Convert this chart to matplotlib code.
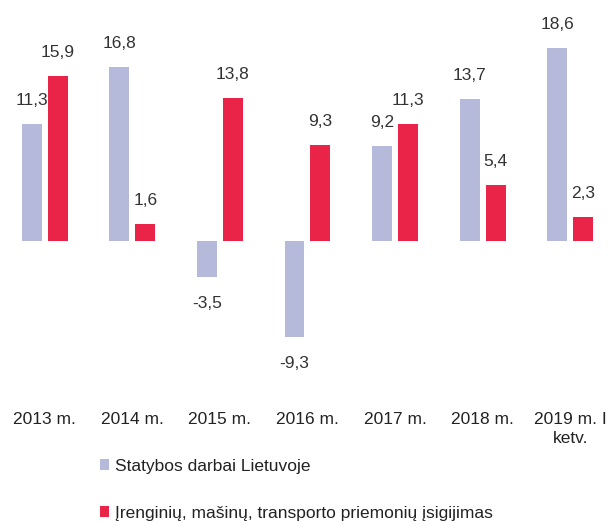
import numpy as np
import matplotlib.pyplot as plt

years = ["2013 m.", "2014 m.", "2015 m.", "2016 m.", "2017 m.", "2018 m.", "2019 m. I\nketv."]
statybos = [11.3, 16.8, -3.5, -9.3, 9.2, 13.7, 18.6]
irenginiai = [15.9, 1.6, 13.8, 9.3, 11.3, 5.4, 2.3]
labels = ["Statybos darbai Lietuvoje", "Įrenginių, mašinų, transporto priemonių įsigijimas"]

plt.rcParams['font.family'] = ['Liberation Sans', 'DejaVu Sans']

fig = plt.figure(figsize=(6.14, 5.22), dpi=100)
ax = fig.add_axes([0, 1 - 400 / 522, 1, 400 / 522])

x = np.arange(len(years))
w = 0.227
off = 0.148
b1 = ax.bar(x - off, statybos, w, color='#b5b9da', label=labels[0])
b2 = ax.bar(x + off, irenginiai, w, color='#ea2449', label=labels[1])

for bars, vals in [(b1, statybos), (b2, irenginiai)]:
    for r, v in zip(bars, vals):
        y = r.get_height() if v >= 0 else v
        dy = 17 if v >= 0 else -19
        ax.annotate(f"{v:.1f}".replace(".", ","), (r.get_x() + r.get_width() / 2, y),
                    xytext=(0, dy), textcoords='offset points', ha='center', va='center',
                    fontsize=12.5, color='#333333')

ax.set_xlim(-0.51, 6.5)
ax.set_ylim(-15.35, 23.26)
ax.set_xticks(x)
ax.set_xticklabels(years, fontsize=12.5, color='#222222', linespacing=1.3)
ax.tick_params(axis='x', length=0, pad=9)
ax.set_yticks([])
for s in ax.spines.values():
    s.set_visible(False)

fig.legend(handles=[b1, b2], loc='upper left', bbox_to_anchor=(84 / 614, 1 - 443 / 522),
           frameon=False, fontsize=12.5, labelspacing=1.85, handlelength=0.55, handleheight=0.6,
           handletextpad=0.35, labelcolor='#222222')

fig.savefig("out.png", dpi=100)
